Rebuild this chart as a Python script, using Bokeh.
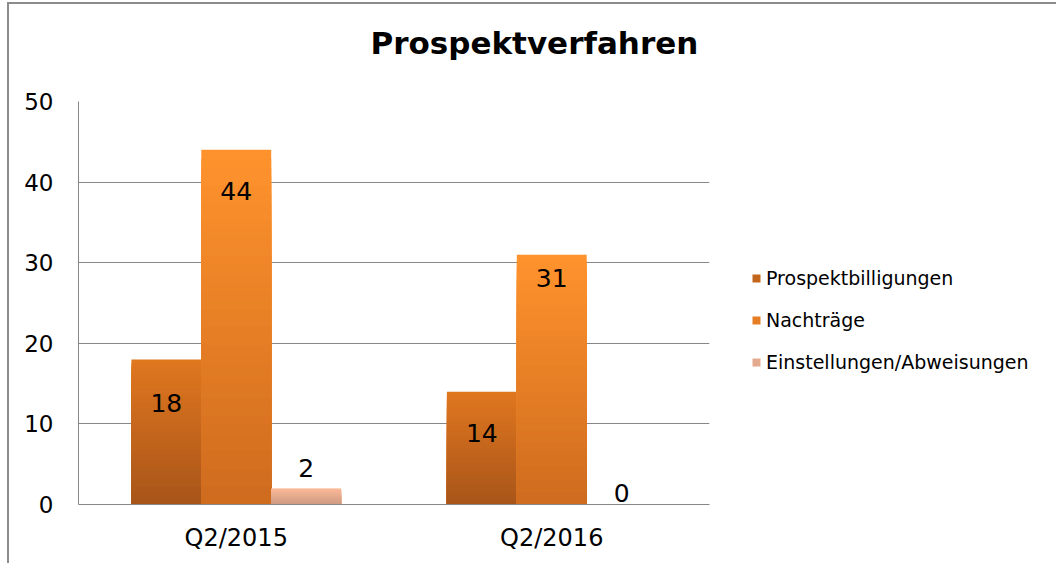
from bokeh.plotting import figure
from bokeh.models import ColumnDataSource, FactorRange, Range1d, Legend, LegendItem, FixedTicker, Title
from bokeh.transform import dodge
from bokeh.core.properties import value
from bokeh.embed import file_html
from bokeh.resources import INLINE

# ---- data ----
categories = ["Q2/2015", "Q2/2016"]
series_names = ["Prospektbilligungen", "Nachträge", "Einstellungen/Abweisungen"]
prospektbilligungen = [18, 14]
nachtraege = [44, 31]
einstellungen_abweisungen = [2, 0]
y_ticks = [0, 10, 20, 30, 40, 50]

series_values = [prospektbilligungen, nachtraege, einstellungen_abweisungen]

# ---- style ----
FONT = "DejaVu Sans"
grad_top = ["#E0771F", "#FF932D", "#FDBB98"]
grad_bottom = ["#A8551A", "#CE6B1E", "#CC9A82"]
offsets = [-0.2215, 0.0, 0.2215]
bar_w = 0.2215
label_dy = [[44, 41], [41, 23], [-20, -12]]   # pixel offsets of value labels
N = 40


def hex2rgb(h):
    h = h.lstrip("#")
    return tuple(int(h[i:i + 2], 16) for i in (0, 2, 4))


def mix(c_bot, c_top, t):
    a, b = hex2rgb(c_bot), hex2rgb(c_top)
    return "#%02x%02x%02x" % tuple(round(a[i] + (b[i] - a[i]) * t) for i in range(3))


p = figure(x_range=FactorRange(*categories, range_padding=0, factor_padding=0),
           y_range=Range1d(0, 50),
           frame_width=631, frame_height=403,
           min_border_left=69, min_border_right=347,
           min_border_top=97, min_border_bottom=59,
           output_backend="svg", toolbar_location=None,
           background_fill_color="white", border_fill_color="white")
p.styles = {"margin-left": "7px", "margin-top": "2px",
            "border-left": "2px solid #8C8C8C", "border-top": "2px solid #8C8C8C"}
p.outline_line_color = None

items = []
for s, (name, vals) in enumerate(zip(series_names, series_values)):
    xs, tops, cols = [], [], []
    for k in range(N):
        frac = (N - k) / N
        for c, v in zip(categories, vals):
            xs.append(c)
            tops.append(v * frac)
            cols.append(mix(grad_bottom[s], grad_top[s], frac - 0.5 / N))
    src = ColumnDataSource(dict(x=xs, top=tops, color=cols))
    r = p.vbar(x=dodge("x", offsets[s], range=p.x_range), top="top", bottom=0,
               width=bar_w, source=src, fill_color="color", line_color=None)
    items.append(LegendItem(label=name, renderers=[r], index=len(categories) * (N // 2)))

    lsrc = ColumnDataSource(dict(x=categories, y=vals, txt=[str(v) for v in vals],
                                 dy=label_dy[s]))
    p.text(x=dodge("x", offsets[s], range=p.x_range), y="y", text="txt", y_offset="dy",
           source=lsrc, text_align="center", text_baseline="middle",
           text_font=value(FONT), text_font_size="25px", text_color="#000000")

legend = Legend(items=items, location=(42, 131), orientation="vertical",
                glyph_width=10, glyph_height=10, label_standoff=5, spacing=20,
                padding=0, margin=0, border_line_color=None, background_fill_alpha=0,
                label_text_font=FONT, label_text_font_size="19px",
                label_text_color="#000000", label_height=22)
p.add_layout(legend, "right")

# invisible spacer between the title and the frame
p.add_layout(Title(text=".", text_color="white", text_font_size="1px", standoff=20), "above")

# title
p.title.text = "Prospektverfahren"
p.title.text_font = FONT
p.title.text_font_style = "bold"
p.title.text_font_size = "31px"
p.title.align = "left"
p.title.offset = 292
p.title.standoff = 36
p.title.text_color = "#000000"

# axes
p.yaxis.ticker = FixedTicker(ticks=y_ticks)
p.yaxis.major_tick_line_color = None
p.yaxis.minor_tick_line_color = None
p.yaxis.axis_line_color = "#878787"
p.yaxis.major_label_standoff = 19
p.yaxis.major_label_text_font = FONT
p.yaxis.major_label_text_font_size = "23px"
p.yaxis.major_label_text_color = "#000000"

p.xaxis.major_tick_line_color = None
p.xaxis.minor_tick_line_color = None
p.xaxis.axis_line_color = "#878787"
p.xaxis.major_label_standoff = 13
p.xaxis.major_label_text_font = FONT
p.xaxis.major_label_text_font_size = "24px"
p.xaxis.major_label_text_color = "#000000"

p.xgrid.grid_line_color = None
p.ygrid.grid_line_color = "#878787"
p.ygrid.grid_line_width = 1

open("out.html", "w").write(file_html(p, INLINE))
